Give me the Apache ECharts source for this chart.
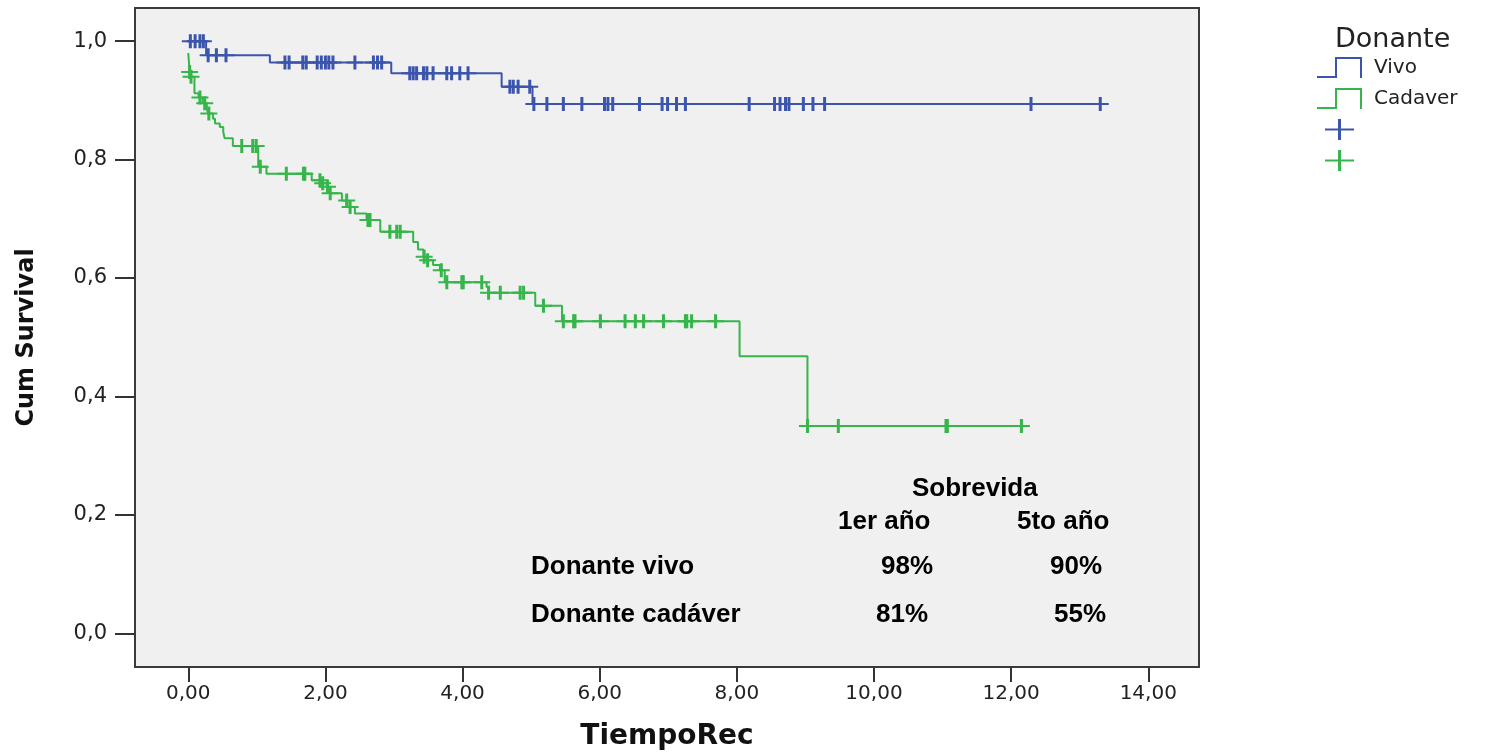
<!DOCTYPE html>
<html><head><meta charset="utf-8">
<script src="https://cdn.jsdelivr.net/npm/echarts@6/dist/echarts.min.js"></script>
<style>html,body{margin:0;padding:0;background:#fff}#c{width:1486px;height:752px}</style>
</head><body><div id="c"></div>
<script>
// Axis ticks
const xTickValues = [0, 2, 4, 6, 8, 10, 12, 14];
const yTickValues = [0, 0.2, 0.4, 0.6, 0.8, 1.0];

// Kaplan-Meier steps: Donante vivo
const vivoTimes = [0, 0.26, 1.19, 2.96, 4.57, 5.02, 13.30];
const vivoSurv  = [1.0, 0.976, 0.964, 0.946, 0.923, 0.894, 0.894];
// Censored times: Donante vivo
const vivoCensored = [0.03, 0.10, 0.17, 0.22, 0.29, 0.41, 0.55, 1.41, 1.47, 1.67, 1.72, 1.88, 1.94, 2.00, 2.05, 2.11,
  2.43, 2.70, 2.76, 2.82, 3.23, 3.28, 3.33, 3.43, 3.48, 3.57, 3.77, 3.84, 3.96, 4.08, 4.69, 4.74, 4.81, 4.98,
  5.04, 5.23, 5.47, 5.74, 6.07, 6.12, 6.19, 6.58, 6.91, 6.99, 7.12, 7.25, 8.18, 8.55, 8.63, 8.71, 8.76, 8.97,
  9.11, 9.28, 12.29, 13.30];

// Kaplan-Meier steps: Donante cadaver
const cadTimes = [0, 0.02, 0.04, 0.09, 0.15, 0.21, 0.27, 0.29, 0.36, 0.39, 0.46, 0.51, 0.53, 0.65, 1.02, 1.14,
  1.80, 1.95, 2.02, 2.06, 2.24, 2.32, 2.43, 2.60, 2.80, 3.28, 3.35, 3.43, 3.48, 3.57, 3.67, 3.74, 4.35, 4.38,
  5.06, 5.45, 8.04, 9.03, 12.15];
const cadSurv  = [0.98, 0.948, 0.94, 0.912, 0.905, 0.895, 0.886, 0.878, 0.869, 0.861, 0.855, 0.847, 0.836, 0.823, 0.788, 0.776,
  0.765, 0.76, 0.754, 0.743, 0.731, 0.72, 0.709, 0.698, 0.678, 0.661, 0.648, 0.636, 0.63, 0.622, 0.613, 0.593, 0.585, 0.575,
  0.553, 0.527, 0.468, 0.35, 0.35];
// Censored times: Donante cadaver
const cadCensored = [0.02, 0.04, 0.17, 0.24, 0.30, 0.78, 0.94, 0.99, 1.05, 1.43, 1.68, 1.70, 1.92, 1.96, 2.03, 2.07,
  2.31, 2.36, 2.62, 2.65, 2.94, 3.04, 3.09, 3.44, 3.49, 3.69, 3.77, 3.99, 4.01, 4.28, 4.38, 4.55, 4.84, 4.89, 5.18,
  5.47, 5.62, 5.64, 6.01, 6.37, 6.52, 6.64, 6.93, 7.25, 7.27, 7.34, 7.69, 9.03, 9.48, 11.05, 11.07, 12.15];

// Inset table
const tableHeader = 'Sobrevida';
const tableCols = ['1er año', '5to año'];
const tableRows = ['Donante vivo', 'Donante cadáver'];
const tableVals = [['98%', '90%'], ['81%', '55%']];

const seriesNames = ['Vivo', 'Cadaver'];
const censorNames = ['Vivo censurado', 'Cadaver censurado'];

const BLUE = '#3b55ad';
const GREEN = '#36b54a';

function survivalAt(times, surv, t) {
  let s = surv[0];
  for (let i = 0; i < times.length; i++) { if (times[i] <= t) s = surv[i]; else break; }
  return s;
}
const zip = (a, b) => a.map((v, i) => [v, b[i]]);

const plusPath = 'path://M7,0H10V6H17V8H10V14H7V8H0V6H7Z';
const legendPlus = 'path://M21,0H24V9.5H37V11.5H24V21H21V11.5H8V9.5H21Z M0,10h0.05v0.05h-0.05Z M44.95,10h0.05v0.05h-0.05Z';
const legendStep = 'path://M0,19H18V0H45V21H43V2H20V21H0Z';

const tableFont = 'bold 26px "Liberation Sans", Arial, sans-serif';
const tText = (text, x, y) => ({ type: 'text', x, y, z: 100,
  style: { text, font: tableFont, fill: '#000', textVerticalAlign: 'middle' } });

const option = {
  animation: false,
  backgroundColor: '#ffffff',
  title: { text: 'Donante', left: 1330, top: 21,
    textStyle: { fontFamily: 'DejaVu Sans', fontSize: 27, fontWeight: 'normal', color: '#222' } },
  legend: {
    orient: 'vertical', left: 1312, top: 52, itemWidth: 45, itemHeight: 21, itemGap: 10,
    data: [
      { name: seriesNames[0], icon: legendStep },
      { name: seriesNames[1], icon: legendStep },
      { name: censorNames[0], icon: legendPlus },
      { name: censorNames[1], icon: legendPlus }
    ],
    formatter: n => censorNames.includes(n) ? '' : n,
    textStyle: { fontFamily: 'DejaVu Sans', fontSize: 20, color: '#222', padding: [0, 0, 0, 7] }
  },
  grid: { left: 135, right: 287, top: 8, bottom: 85, show: true, backgroundColor: '#f0f0f0',
    borderColor: '#3a3a3a', borderWidth: 2, outerBoundsMode: 'none', containLabel: false },
  xAxis: {
    type: 'value', min: -0.777, max: 14.74,
    name: 'TiempoRec', nameLocation: 'middle', nameGap: 56,
    nameTextStyle: { fontFamily: 'DejaVu Sans', fontWeight: 'bold', fontSize: 28, color: '#111' },
    axisLine: { show: false, onZero: false },
    splitLine: { show: false },
    axisTick: { show: true, inside: false, customValues: xTickValues, length: 15, lineStyle: { color: '#333', width: 2 } },
    axisLabel: { customValues: xTickValues, margin: 17, fontFamily: 'DejaVu Sans', fontSize: 20, color: '#222',
      formatter: v => v.toFixed(2).replace('.', ',') }
  },
  yAxis: {
    type: 'value', min: -0.057, max: 1.056,
    name: 'Cum Survival', nameLocation: 'middle', nameGap: 96, nameRotate: 90,
    nameTextStyle: { fontFamily: 'DejaVu Sans', fontWeight: 'bold', fontSize: 24, color: '#111' },
    axisLine: { show: false, onZero: false },
    splitLine: { show: false },
    axisTick: { show: true, inside: false, customValues: yTickValues, length: 20, lineStyle: { color: '#333', width: 2 } },
    axisLabel: { customValues: yTickValues, margin: 28, fontFamily: 'DejaVu Sans', fontSize: 21, color: '#222',
      formatter: v => v.toFixed(1).replace('.', ',') }
  },
  series: [
    { name: seriesNames[0], type: 'line', step: 'end', showSymbol: false, symbol: 'none',
      data: zip(vivoTimes, vivoSurv), lineStyle: { color: BLUE, width: 2 }, itemStyle: { color: BLUE }, z: 2 },
    { name: seriesNames[1], type: 'line', step: 'end', showSymbol: false, symbol: 'none',
      data: zip(cadTimes, cadSurv), lineStyle: { color: GREEN, width: 2 }, itemStyle: { color: GREEN }, z: 2 },
    { name: censorNames[0], type: 'scatter', symbol: plusPath, symbolSize: [17, 14],
      data: vivoCensored.map(t => [t, survivalAt(vivoTimes, vivoSurv, t)]), itemStyle: { color: BLUE, opacity: 1 }, z: 3 },
    { name: censorNames[1], type: 'scatter', symbol: plusPath, symbolSize: [17, 14],
      data: cadCensored.map(t => [t, survivalAt(cadTimes, cadSurv, t)]), itemStyle: { color: GREEN, opacity: 1 }, z: 3 }
  ],
  graphic: [
    tText(tableHeader, 912, 489),
    tText(tableCols[0], 838, 522),
    tText(tableCols[1], 1017, 522),
    tText(tableRows[0], 531, 567),
    tText(tableRows[1], 531, 615),
    tText(tableVals[0][0], 881, 567),
    tText(tableVals[0][1], 1050, 567),
    tText(tableVals[1][0], 876, 615),
    tText(tableVals[1][1], 1054, 615)
  ]
};

const chart = echarts.init(document.getElementById('c'), null, { renderer: 'canvas' });
chart.setOption(option);
</script>
</body></html>
